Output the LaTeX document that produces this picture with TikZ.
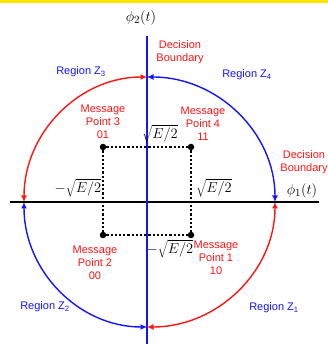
\documentclass[tikz,border=0pt]{standalone}
\usepackage{fontspec}
\setmainfont{Liberation Sans}
\usetikzlibrary{arrows.meta}
\definecolor{topyellow}{RGB}{255,230,0}
\definecolor{myred}{RGB}{255,20,20}
\definecolor{myblue}{RGB}{20,20,255}
\tikzset{
  lbl/.style={font=\fontsize{11}{13}\selectfont, align=center, inner sep=0pt},
  redlbl/.style={lbl, text=myred},
  bluelbl/.style={lbl, text=myblue},
  mathlbl/.style={font=\fontsize{15}{17}\selectfont, inner sep=0pt},
  arcline/.style={line width=1.4pt, {Latex[length=6.5pt,width=6pt]}-{Latex[length=6.5pt,width=6pt]}},
  guide/.style={black, line width=1.5pt, dash pattern=on 2.2pt off 2pt},
  msgpt/.style={circle, fill=black, minimum size=6.5pt, inner sep=0pt},
}
\begin{document}
\begin{tikzpicture}[x=1pt,y=1pt]
\useasboundingbox (-147,-142) rectangle (181,202);
\fill[topyellow] (-147,199) rectangle (181,202);
% axes
\coordinate (O) at (0,0);
\coordinate (xl) at (-137,0);
\coordinate (xr) at (172,0);
\coordinate (yt) at (0,166);
\coordinate (yb) at (0,-142);
% arcs
\coordinate (top) at (0,125);
\coordinate (bot) at (0,-125);
\coordinate (lft) at (-123,0);
\coordinate (rgt) at (128,0);
\draw[arcline, myred] (top) arc[start angle=90, end angle=180, x radius=123, y radius=125];
\draw[arcline, myblue] (top) arc[start angle=90, end angle=0, x radius=128, y radius=125];
\draw[arcline, myblue] (lft) arc[start angle=180, end angle=270, x radius=123, y radius=125];
\draw[arcline, myred] (rgt) arc[start angle=0, end angle=-90, x radius=128, y radius=125];
% message points
\node[msgpt] (p3) at (-44,55) {};
\node[msgpt] (p4) at (44,55) {};
\node[msgpt] (p2) at (-44,-33) {};
\node[msgpt] (p1) at (44,-33) {};
\draw[guide] (p3) -- (p4);
\draw[guide] (p2) -- (p1);
\draw[guide] (p3) -- (p2);
\draw[guide] (p4) -- (p1);
\draw[black, line width=1.8pt] (xl) -- (xr);
\draw[myblue, line width=1.8pt] (yt) -- (yb);
% labels
\node[mathlbl] (phi2) at (-6,184) {$\phi_2(t)$};
\node[mathlbl] (phi1) at (155,11) {$\phi_1(t)$};
\node[redlbl] (db1) at (33,150) {Decision\\Boundary};
\node[redlbl] (db2) at (157,39.5) {Decision\\Boundary};
\node[bluelbl] (z3) at (-66,130) {Region Z\textsubscript{3}};
\node[bluelbl] (z4) at (100,127) {Region Z\textsubscript{4}};
\node[bluelbl] (z2) at (-102,-105) {Region Z\textsubscript{2}};
\node[bluelbl] (z1) at (127,-106) {Region Z\textsubscript{1}};
\node[redlbl] (m3) at (-44,80) {Message\\Point 3\\01};
\node[redlbl] (m4) at (56,78.5) {Message\\Point 4\\11};
\node[redlbl] (m2) at (-52,-61) {Message\\Point 2\\00};
\node[redlbl] (m1) at (69,-55.5) {Message\\Point 1\\10};
\node[mathlbl] (s1) at (13,68) {$\sqrt{E/2}$};
\node[mathlbl] (s2) at (-69,14) {$-\sqrt{E/2}$};
\node[mathlbl] (s3) at (67,14) {$\sqrt{E/2}$};
\node[mathlbl] (s4) at (23,-47) {$-\sqrt{E/2}$};
\end{tikzpicture}
\end{document}
